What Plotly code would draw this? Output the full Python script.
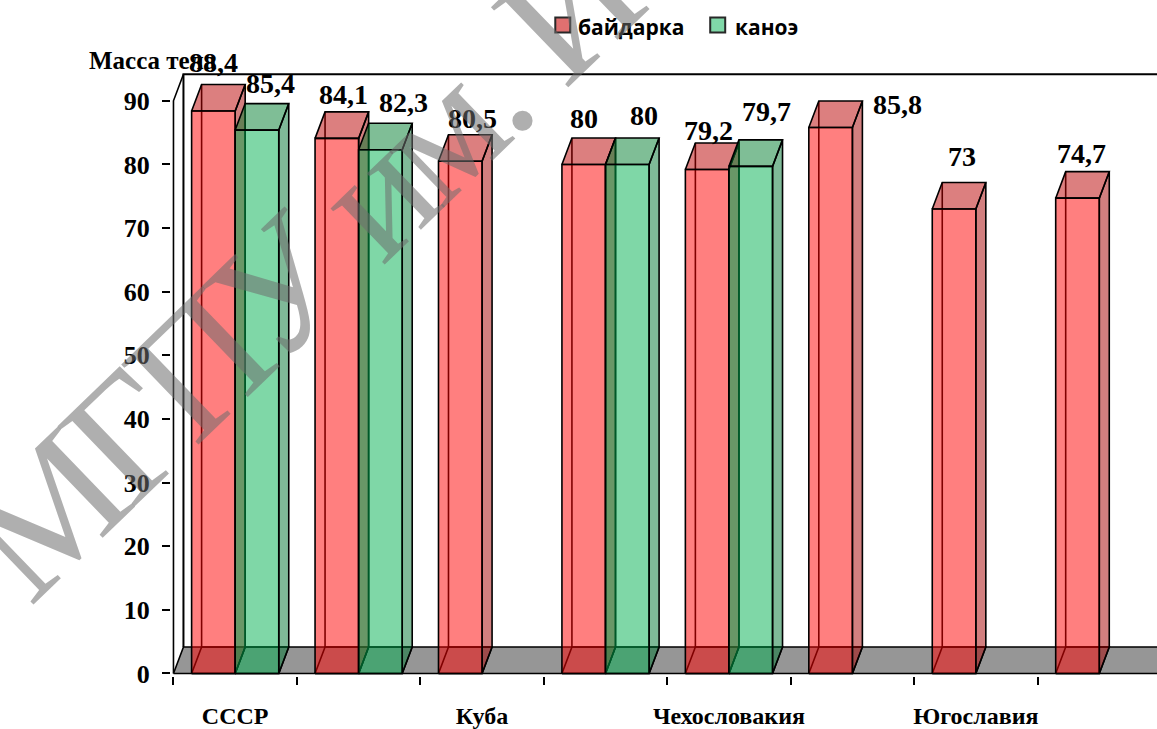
import math
import plotly.graph_objects as go

# ---- data -------------------------------------------------------------
slot_labels = ["СССР", "", "Куба", "", "Чехословакия", "", "Югославия", ""]
kayak = [88.4, 84.1, 80.5, 80, 79.2, 85.8, 73, 74.7]
canoe = [85.4, 82.3, None, 80, 79.7, None, None, None]
series_names = ["байдарка", "каноэ"]
y_ticks = [0, 10, 20, 30, 40, 50, 60, 70, 80, 90]
y_title = "Масса тела"
watermark = "МГПУ им. И"

# label nudges in pixels (x, y) relative to the top-front centre of each bar
kayak_label_shift = [(0, 48), (7, 44), (12, 43), (0, 46), (1, 39), (67, 23), (8, 52), (4, 45)]
canoe_label_shift = [(14, 47), (23, 47), None, (17, 49), (16, 55), None, None, None]

# ---- geometry ---------------------------------------------------------
W, H = 1157, 729
K = 6.363            # px per y unit
S = 123.5            # px per category slot
Y0_PX = 673          # pixel row of y = 0
X0_PX = 173          # pixel column of the left slot boundary (x = -0.5)
DX = 10 / S          # depth offset, x
DY = 26.5 / K        # depth offset, y
BAR_W = 43.6 / S
Y_MAX_FRONT = 90

ymin, ymax = -0.4, 95.0
xmin = -0.52
m_t = Y0_PX - ymax * K
m_b = H - (Y0_PX - ymin * K)
m_l = X0_PX + (xmin + 0.5) * S
m_r = 0
xmax = xmin + (W - m_l - m_r) / S
PW, PH = W - m_l - m_r, H - m_t - m_b


def px_x(px):
    return (px - m_l) / PW


def px_y(py):
    return (H - m_b - py) / PH


RED = dict(front="rgba(255,0,0,0.5)", top="rgba(185,0,0,0.5)", side="rgba(165,0,0,0.5)")
GREEN = dict(front="rgba(0,176,80,0.5)", top="rgba(0,125,45,0.5)", side="rgba(0,118,50,0.5)")
EDGE = dict(color="black", width=1.6)

traces = []


def poly(xs, ys, fill=None, line=EDGE):
    xs = list(xs) + [xs[0]]
    ys = list(ys) + [ys[0]]
    kw = dict(x=xs, y=ys, mode="lines", line=line, hoverinfo="skip", showlegend=False)
    if fill:
        kw.update(fill="toself", fillcolor=fill)
    return go.Scatter(**kw)


def seg(xs, ys, line=EDGE):
    return go.Scatter(x=xs, y=ys, mode="lines", line=line, hoverinfo="skip", showlegend=False)


X_FAR = xmax + 1

# back wall and side wall edges
traces.append(seg([-0.5 + DX, -0.5 + DX, X_FAR], [DY, Y_MAX_FRONT + DY, Y_MAX_FRONT + DY],
                  line=dict(color="black", width=2)))
traces.append(seg([-0.5, -0.5, -0.5 + DX], [0, Y_MAX_FRONT, Y_MAX_FRONT + DY],
                  line=dict(color="black", width=1.6)))
# floor
traces.append(poly([-0.5, X_FAR, X_FAR + DX, -0.5 + DX], [0, 0, DY, DY], fill="rgb(150,150,150)"))


def bar3d(x0, v, col):
    x1 = x0 + BAR_W
    out = []
    # hidden edges seen through the translucent faces
    out.append(seg([x0 + DX, x0 + DX], [DY, v + DY]))
    out.append(poly([x0, x1, x1 + DX, x0 + DX], [0, 0, DY, DY]))
    # right side, top, front
    out.append(poly([x1, x1 + DX, x1 + DX, x1], [0, DY, v + DY, v], fill=col["side"]))
    out.append(poly([x0, x1, x1 + DX, x0 + DX], [v, v, v + DY, v + DY], fill=col["top"]))
    out.append(poly([x0, x1, x1, x0], [0, 0, v, v], fill=col["front"]))
    return out


annotations = []
annotations.append(dict(text=y_title, xref="paper", yref="paper", x=px_x(86), y=px_y(60),
                        xanchor="left", yanchor="middle", showarrow=False,
                        font=dict(family="Liberation Serif", size=25, color="black", weight="bold")))


def fmt(v):
    return f"{v:g}".replace(".", ",")


for i in range(len(slot_labels)):
    for vals, col, shifts, off in ((kayak, RED, kayak_label_shift, -BAR_W),
                                   (canoe, GREEN, canoe_label_shift, 0.0)):
        v = vals[i]
        if v is None:
            continue
        x0 = i + off
        traces.extend(bar3d(x0, v, col))
        sx, sy = shifts[i]
        annotations.append(dict(text=fmt(v), x=x0 + BAR_W / 2, y=v, xref="x", yref="y",
                                xanchor="center", yanchor="middle", xshift=sx, yshift=sy,
                                showarrow=False,
                                font=dict(family="Liberation Serif", size=28, color="black",
                                          weight="bold")))

# legend
shapes = []
leg = [(series_names[0], 555, 576, "rgb(224,112,112)"), (series_names[1], 710, 733, "rgb(128,216,168)")]
for name, sq_x, tx, fillc in leg:
    shapes.append(dict(type="rect", xref="paper", yref="paper",
                       x0=px_x(sq_x), x1=px_x(sq_x + 15), y0=px_y(32), y1=px_y(17),
                       fillcolor=fillc, line=dict(color="rgb(40,40,40)", width=2)))
    annotations.append(dict(text=name, xref="paper", yref="paper", x=px_x(tx), y=px_y(27),
                            xanchor="left", yanchor="middle", showarrow=False,
                            font=dict(family="Open Sans", size=21, color="black", weight="bold")))

# diagonal watermark, set letter by letter along a rising baseline
WM_SIZE = 170
WM_ANGLE = 44
WM_SQUEEZE = 0.9
WM_START = (30, 598)
glyph_w = {"М": .889, "Г": .611, "П": .722, "У": .722, " ": .25, "и": .535, "м": .63,
           ".": .25, "И": .722}
ux, uy = math.cos(math.radians(WM_ANGLE)), -math.sin(math.radians(WM_ANGLE))
upx, upy = -math.sin(math.radians(WM_ANGLE)), -math.cos(math.radians(WM_ANGLE))
adv = 0.0
for ch in watermark:
    w = glyph_w.get(ch, 0.6) * WM_SIZE * WM_SQUEEZE
    if ch.strip():
        c = adv + w / 2
        cx = WM_START[0] + c * ux + 0.3 * WM_SIZE * upx
        cy = WM_START[1] + c * uy + 0.3 * WM_SIZE * upy
        annotations.append(dict(text=ch, xref="paper", yref="paper", x=px_x(cx), y=px_y(cy),
                                xanchor="center", yanchor="middle", showarrow=False,
                                textangle=-WM_ANGLE,
                                font=dict(family="Liberation Serif", size=WM_SIZE,
                                          color="rgba(110,110,110,0.55)")))
    adv += w

fig = go.Figure(traces)
fig.update_layout(
    width=W, height=H,
    margin=dict(l=m_l, r=m_r, t=m_t, b=m_b, pad=0, autoexpand=False),
    paper_bgcolor="white", plot_bgcolor="white",
    showlegend=False,
    annotations=annotations,
    shapes=shapes,
    xaxis=dict(range=[xmin, xmax], showgrid=False, zeroline=False, showline=False,
               automargin=False,
               tickmode="array", tickvals=[i for i, s in enumerate(slot_labels) if s],
               ticktext=[s for s in slot_labels if s], ticks="", ticklabelstandoff=23,
               tickfont=dict(family="Liberation Serif", size=24, color="black", weight="bold"),
               minor=dict(tickmode="array", tickvals=[i - 0.5 for i in range(len(slot_labels) + 1)],
                          ticks="outside", ticklen=8, tickwidth=1.5, tickcolor="black",
                          showgrid=False)),
    yaxis=dict(range=[ymin, ymax], showgrid=False, zeroline=False, showline=False,
               automargin=False,
               tickmode="array", tickvals=y_ticks, ticks="outside", ticklen=8,
               tickwidth=1.5, tickcolor="black", ticklabelstandoff=7,
               tickfont=dict(family="Liberation Serif", size=26, color="black", weight="bold")),
)
fig.write_html("out.html")
